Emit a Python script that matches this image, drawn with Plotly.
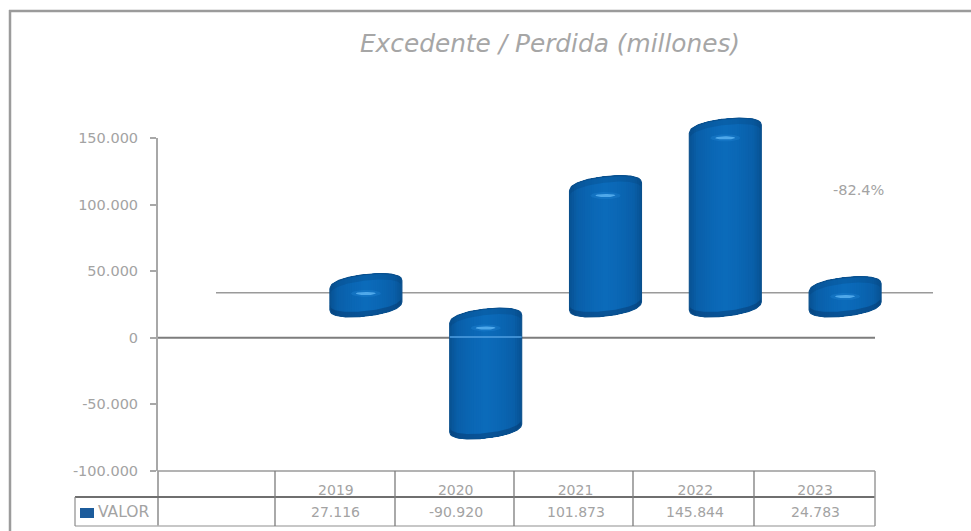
import numpy as np
import plotly.graph_objects as go

# ---- data ----
years = ["2019", "2020", "2021", "2022", "2023"]
values = [27116, -90920, 101873, 145844, 24783]
value_labels = ["27.116", "-90.920", "101.873", "145.844", "24.783"]
y_ticks = [150000, 100000, 50000, 0, -50000, -100000]
y_tick_labels = ["150.000", "100.000", "50.000", "0", "-50.000", "-100.000"]
reference_level = [33800]
change_label = ["-82.4%"]
series_name = ["VALOR"]
title_text = ["Excedente / Perdida (millones)"]

W, H = 971, 531
AX_L, AX_R, AX_T, AX_B = 158, 935, 138, 471
COL = 119.8
CAT0 = 335.9
X_RANGE = [(AX_L - CAT0) / COL, (AX_R - CAT0) / COL]
DX3D = 30        # depth shift of the 3D bars, px
ZERO3D = 314     # pixel row of zero on the bar plane
TOP3D = 60
S3D = 0.00131    # px per unit on the bar plane
UY = 1 / S3D     # data units per px
UX = 1 / COL

def px(x): return x / W
def py(y): return (H - y) / H

fig = go.Figure()

# main-plane lines
fig.add_trace(go.Scatter(x=[(216 - CAT0) * UX, (933 - CAT0) * UX], y=reference_level * 2, mode="lines",
                         line=dict(color="#9a9a9a", width=1.5), hoverinfo="skip", showlegend=False))
fig.add_trace(go.Scatter(x=[X_RANGE[0], 4.5], y=[0, 0], mode="lines",
                         line=dict(color="#7d7d7d", width=2), hoverinfo="skip", showlegend=False))

# ---- cylinders, built from the values on the shifted plane ----
HW = 36 * UX
CAP = 10 * UY
TILT = 4 * UY
def arc(t, p=2.2): return (1 - np.minimum(np.abs(t), 1) ** p) ** (1 / p)

def ends(v):
    """low-y and high-y cap centres in data units"""
    if v >= 0:
        return 8 * UY, v - 6 * UY
    return v + 5 * UY, -5 * UY

def top_edge(t, hi):  return hi + TILT * t + CAP * arc(t)
def bot_edge(t, lo):  return lo + TILT * t - CAP * arc(t)

# nested silhouettes, dark at the outside and lighter towards the middle
stops_a = [0.0, 0.35, 0.8, 1.0]
stops_c = np.array([[12, 108, 188], [11, 104, 182], [10, 96, 170], [8, 84, 150]])
T = np.linspace(-1, 1, 81)
for a in np.linspace(1, 0.08, 16):
    tt = T * a
    xs, ys = [], []
    for i, v in enumerate(values):
        lo, hi = ends(v)
        xs += list(i + HW * tt) + list(i + HW * tt[::-1]) + [None]
        ys += list(top_edge(tt, hi)) + list(bot_edge(tt[::-1], lo)) + [None]
    c = [int(np.interp(a, stops_a, stops_c[:, j])) for j in range(3)]
    fig.add_trace(go.Scatter(x=xs, y=ys, xaxis="x2", yaxis="y2", mode="lines", fill="toself",
                             fillcolor=f"rgb({c[0]},{c[1]},{c[2]})", line=dict(width=0),
                             hoverinfo="skip", showlegend=False))

# cap shading, rim and highlight
top_x, top_y, bot_x, bot_y, rim_x, rim_y, hi_x, hi_y, halo_x, halo_y = [], [], [], [], [], [], [], [], [], []
A = np.linspace(0, 2 * np.pi, 41)
for i, v in enumerate(values):
    lo, hi = ends(v)
    top_x += list(i + HW * T) + list(i + HW * T[::-1]) + [None]
    top_y += list(top_edge(T, hi)) + list(top_edge(T[::-1], hi) - 6 * UY) + [None]
    bot_x += list(i + HW * T) + list(i + HW * T[::-1]) + [None]
    bot_y += list(bot_edge(T, lo)) + list(bot_edge(T[::-1], lo) + 5 * UY) + [None]
    rim_x += list(i + HW * T) + list(i + HW * T[::-1]) + [i - HW, None]
    rim_y += list(top_edge(T, hi)) + list(bot_edge(T[::-1], lo)) + [top_edge(-1.0, hi), None]
    cy = hi - 9 * UY
    hi_x += list(i + 10 * UX * np.cos(A)) + [None]
    hi_y += list(cy + 1.6 * UY * np.sin(A)) + [None]
    halo_x += list(i + 15 * UX * np.cos(A)) + [None]
    halo_y += list(cy + 3.5 * UY * np.sin(A)) + [None]

for xs, ys, col in [(top_x, top_y, "rgba(6,58,108,0.22)"), (bot_x, bot_y, "rgba(5,50,100,0.40)"),
                    (halo_x, halo_y, "rgba(40,140,220,0.30)"), (hi_x, hi_y, "#4fa8ea")]:
    fig.add_trace(go.Scatter(x=xs, y=ys, xaxis="x2", yaxis="y2", mode="lines", fill="toself", fillcolor=col,
                             line=dict(width=0), hoverinfo="skip", showlegend=False))
fig.add_trace(go.Scatter(x=rim_x, y=rim_y, xaxis="x2", yaxis="y2", mode="lines",
                         line=dict(color="#0a4f8c", width=1.1), hoverinfo="skip", showlegend=False))
# zero line showing through the bar that crosses it
z = (ZERO3D - 337) * UY
fig.add_trace(go.Scatter(x=[1 - HW, 1 + HW], y=[z, z], xaxis="x2", yaxis="y2", mode="lines",
                         line=dict(color="#4f9fe2", width=1.5), hoverinfo="skip", showlegend=False))

def line(x0, y0, x1, y1, c="#8a8a8a", w=1.5):
    return dict(type="line", xref="paper", yref="paper", x0=px(x0), y0=py(y0), x1=px(x1), y1=py(y1),
                line=dict(color=c, width=w))

shapes = [
    line(9, 11, 971, 11, "#9b9b9b", 2.5),
    line(10, 10, 10, 531, "#9b9b9b", 2.5),
    line(158, 471, 158, 526, "#a8a8a8", 2),
    line(158, 471, 875, 471, "#9a9a9a", 1.5),
    line(75, 497, 875, 497, "#6f6f6f", 1.8),
    line(75, 526, 875, 526, "#b5b5b5", 1.5),
    line(75, 497, 75, 526, "#8c8c8c", 1.2),
    line(875, 471, 875, 526, "#9a9a9a", 1.5),
]
for xc in [275, 395, 514, 633, 754]:
    shapes.append(line(xc, 471, xc, 526, "#7c7c7c", 1.3))
shapes.append(dict(type="rect", xref="paper", yref="paper", x0=px(80), x1=px(94), y0=py(518), y1=py(508),
                   fillcolor="#1c5c9c", line=dict(width=0)))

TXT = "#a3a3a3"
anns = [
    dict(text=series_name[0], xref="paper", yref="paper", x=px(96), y=py(512), xanchor="left", yanchor="middle",
         showarrow=False, font=dict(family="DejaVu Sans", size=15.5, color=TXT)),
    dict(text=change_label[0], xref="paper", yref="paper", x=px(858), y=py(190), xanchor="center", yanchor="middle",
         showarrow=False, font=dict(family="DejaVu Sans", size=14.5, color=TXT)),
]
for i, lab in enumerate(value_labels):
    anns.append(dict(text=lab, xref="x", yref="paper", x=i, y=py(512), xanchor="center", yanchor="middle",
                     showarrow=False, font=dict(family="DejaVu Sans", size=14, color=TXT)))

axis_font = dict(family="DejaVu Sans", size=14.5, color=TXT)
fig.update_layout(
    width=W, height=H, autosize=False, margin=dict(l=0, r=0, t=0, b=0),
    paper_bgcolor="white", plot_bgcolor="rgba(0,0,0,0)", showlegend=False,
    title=dict(text=title_text[0], x=550 / W, y=py(43), xanchor="center", yanchor="middle",
               font=dict(family="DejaVu Sans", size=24.8, color="#a6a6a6", style="italic")),
    shapes=shapes, annotations=anns,
    xaxis=dict(domain=[px(AX_L), px(AX_R)], range=X_RANGE, tickmode="array", tickvals=list(range(5)), ticktext=years,
               showgrid=False, zeroline=False, showline=False, ticks="", ticklabelstandoff=9, automargin=False,
               tickfont=dict(family="DejaVu Sans", size=14, color=TXT)),
    yaxis=dict(domain=[py(AX_B), py(AX_T)], range=[-100000, 150000], tickmode="array", tickvals=y_ticks,
               ticktext=y_tick_labels, showgrid=False, zeroline=False, showline=True, linecolor="#a8a8a8", linewidth=2,
               ticks="outside", ticklen=6, tickcolor="#a8a8a8", tickwidth=1.5, ticklabelstandoff=9, automargin=False,
               tickfont=axis_font),
    xaxis2=dict(domain=[px(AX_L + DX3D), px(AX_R + DX3D)], range=X_RANGE, visible=False, anchor="y2", automargin=False),
    yaxis2=dict(domain=[py(AX_B), py(TOP3D)], range=[(ZERO3D - AX_B) * UY, (ZERO3D - TOP3D) * UY], visible=False,
                anchor="x2", automargin=False),
)

fig.write_html("out.html", config={"displayModeBar": False},
               post_script="document.body.style.margin='0';document.documentElement.style.overflow='hidden';")
